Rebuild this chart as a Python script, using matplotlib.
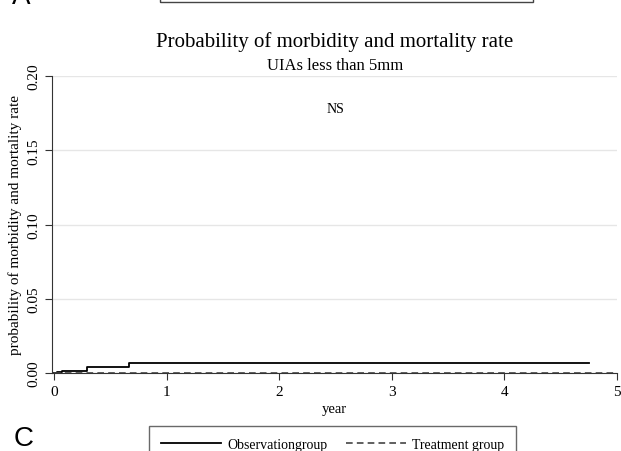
import matplotlib
matplotlib.use("Agg")
import matplotlib.pyplot as plt
from matplotlib.patches import Rectangle

# Kaplan-Meier style step data
obs_years = [0.0, 0.02, 0.07, 0.295, 0.66, 4.75]
obs_rate = [0.0, 0.0008, 0.0015, 0.0042, 0.0069, 0.0069]
trt_years = [0.0, 5.0]
trt_rate = [0.0, 0.0]

x_ticks = [0, 1, 2, 3, 4, 5]
y_ticks = [0.00, 0.05, 0.10, 0.15, 0.20]
y_labels = ["0.00", "0.05", "0.10", "0.15", "0.20"]

plt.rcParams['font.family'] = ['Liberation Serif', 'DejaVu Serif']

fig = plt.figure(figsize=(6.21, 4.52), dpi=100)
ax = fig.add_axes([52 / 621, 1 - 374 / 452, 565 / 621, 297 / 452])

ax.step(obs_years, obs_rate, where='post', color='black', lw=1.3,
        label='Observationgroup')
ax.step(trt_years, trt_rate, where='post', color='#444444', lw=1.2,
        ls=(0, (4, 2.5)), label='Treatment group')

ax.set_xlim(-0.02, 5)
ax.set_ylim(0, 0.20)
ax.set_xticks(x_ticks)
ax.set_yticks(y_ticks)
ax.set_yticklabels(y_labels, rotation=90, va='center')
ax.tick_params(labelsize=11, length=5, color='#333333')
ax.grid(axis='y', color='#e6e6e6', lw=1)
ax.set_axisbelow(True)
for s in ['top', 'right']:
    ax.spines[s].set_visible(False)
ax.spines['left'].set_color('#333333')
ax.spines['bottom'].set_color('#333333')

ax.set_xlabel('year', fontsize=10.5, labelpad=3)
ax.set_ylabel('probability of morbidity and mortality rate', fontsize=11,
              labelpad=4)
ax.text(2.5, 0.178, 'NS', ha='center', va='center', fontsize=10)

fig.text(335 / 621, 1 - 42 / 452, 'Probability of morbidity and mortality rate',
         ha='center', va='center', fontsize=15)
fig.text(335 / 621, 1 - 66 / 452, 'UIAs less than 5mm',
         ha='center', va='center', fontsize=12)

# panel letters from the neighbouring panels
fig.text(12 / 621, 1 - 4 / 452, 'A', family='Liberation Sans', fontsize=20,
         ha='left', va='baseline')
fig.text(14 / 621, 1 - 446 / 452, 'C', family='Liberation Sans', fontsize=20,
         ha='left', va='baseline')

# cut-off legend box of the panel above
fig.patches.append(Rectangle((160 / 621, 1 - 3 / 452), 373 / 621, 0.05,
                             transform=fig.transFigure, fill=False,
                             edgecolor='#444444', lw=1))

handles, labels = ax.get_legend_handles_labels()
leg = fig.legend(handles, labels, loc='upper center', ncol=2,
                 bbox_to_anchor=(332.5 / 621, 1 - 427 / 452), fontsize=10,
                 frameon=True, fancybox=False, handlelength=4.3,
                 handletextpad=0.45, columnspacing=1.35, borderpad=0.85,
                 borderaxespad=0)
leg.get_frame().set_edgecolor('#444444')
leg.get_frame().set_linewidth(1)

fig.savefig('out.png', dpi=100)
